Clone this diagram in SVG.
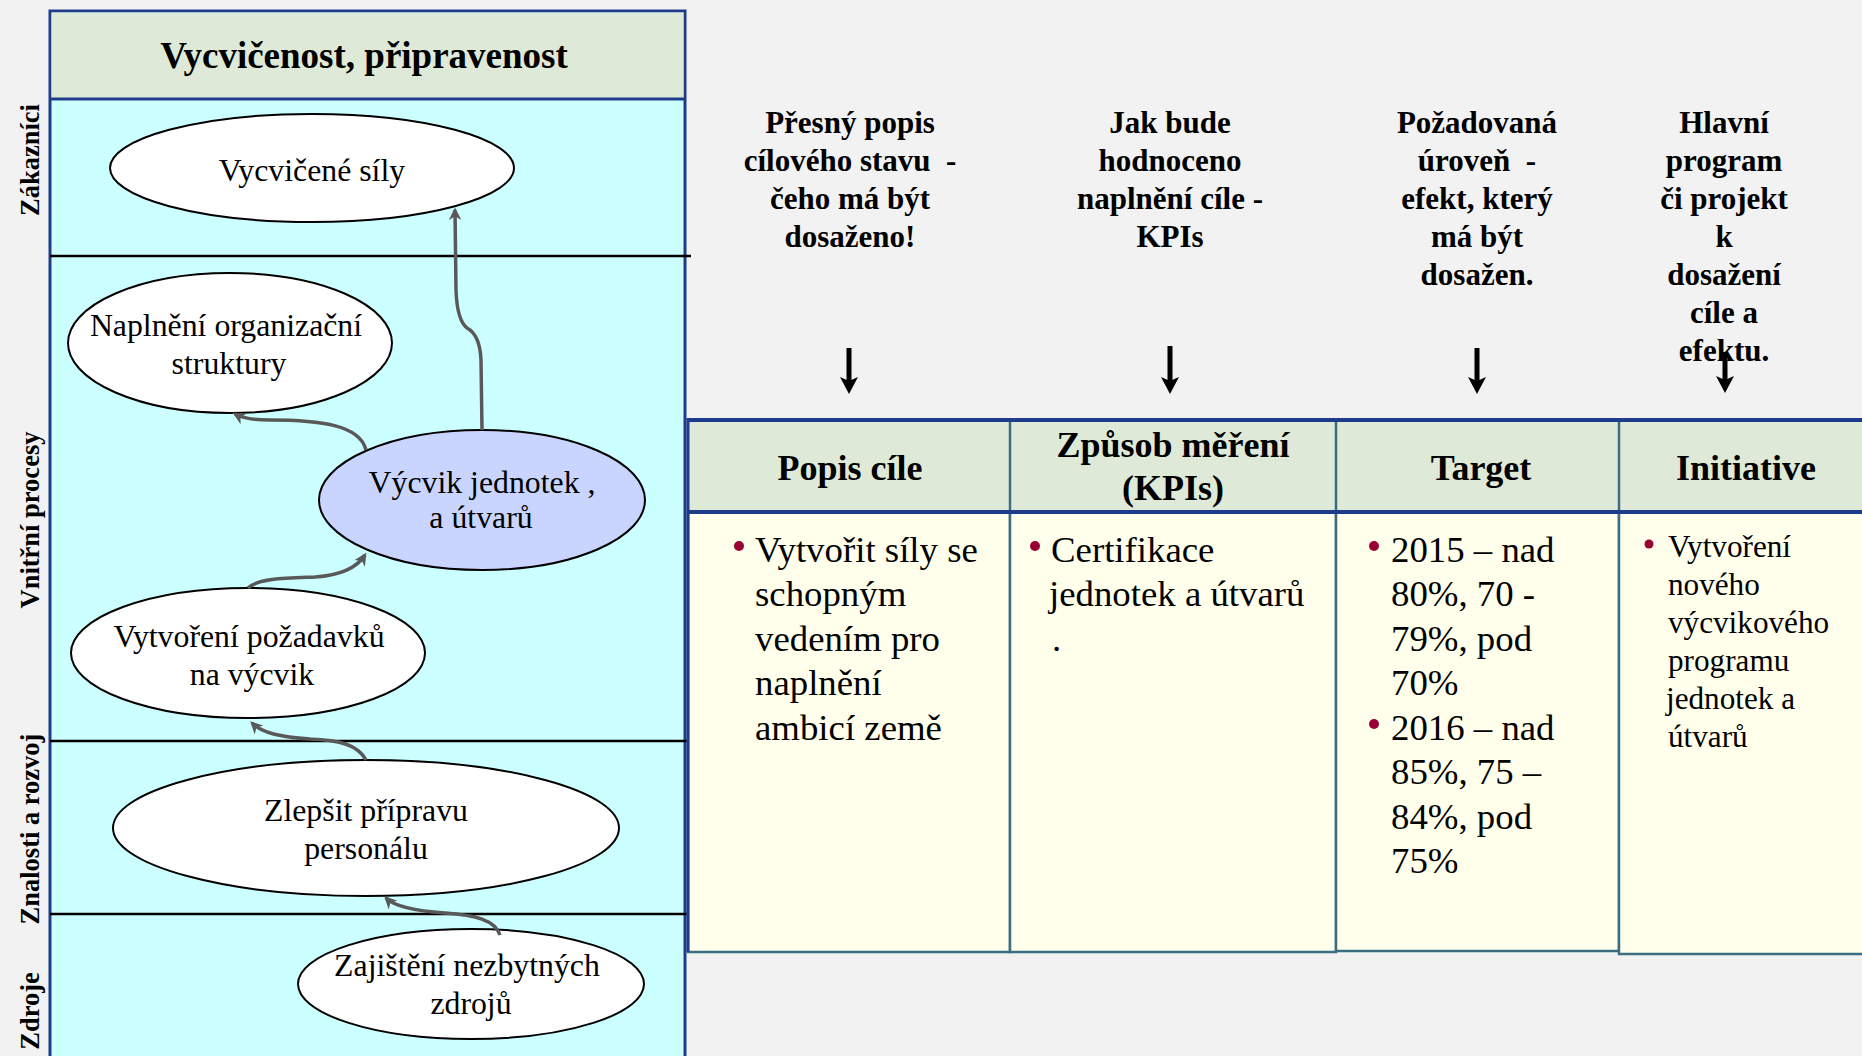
<svg xmlns="http://www.w3.org/2000/svg" width="1862" height="1056" viewBox="0 0 1862 1056">
<defs>
<style>
text{font-family:"Liberation Serif","Times New Roman",serif;fill:#000}
.b{font-weight:bold}
.t{font-size:31.8px;text-anchor:middle}
.lab{font-size:26.5px;font-weight:bold;text-anchor:middle}
.hd{font-size:31px;font-weight:bold;text-anchor:middle}
.th{font-size:36px;font-weight:bold;text-anchor:middle}
.bd{font-size:36.8px}
.bs{font-size:31.2px}
.ell{stroke:#000;stroke-width:2}
.con{fill:none;stroke:#595959;stroke-width:3.5;marker-end:url(#ah)}
.sep{stroke:#000;stroke-width:2.5}
.cell{fill:#FFFFEB;stroke:#3B6E82;stroke-width:2.5}
.bul{fill:#990033}
.dn{stroke:#000;stroke-width:5;marker-end:url(#dh)}
</style>
<marker id="ah" viewBox="0 0 10 10" refX="8" refY="5" markerWidth="3.6" markerHeight="3.6" orient="auto" markerUnits="strokeWidth">
<path d="M0,0 L10,5 L0,10 L3,5 z" fill="#595959"/>
</marker>
<marker id="dh" viewBox="0 0 17 18" refX="5" refY="9" markerWidth="17" markerHeight="18" orient="auto" markerUnits="userSpaceOnUse">
<path d="M0,0 L17,9 L0,18 L4,9 z" fill="#000"/>
</marker>
</defs>
<rect width="1862" height="1056" fill="#F2F2F2"/>

<g id="left-panel">
<rect x="50" y="11" width="635" height="1050" fill="#CCFFFF" stroke="#1F3C8C" stroke-width="3"/>
<rect x="51.5" y="12.5" width="632" height="86.5" fill="#DEEAD7"/>
<line x1="50" y1="99" x2="685" y2="99" stroke="#1F3C8C" stroke-width="3"/>
<text x="364" y="68" class="b" font-size="37" text-anchor="middle">Vycvičenost, připravenost</text>
<line class="sep" x1="50" y1="256" x2="691" y2="256"/>
<line class="sep" x1="50" y1="741" x2="691" y2="741"/>
<line class="sep" x1="50" y1="914" x2="688" y2="914"/>
<text class="lab" transform="translate(39,160) rotate(-90)">Zákazníci</text>
<text class="lab" transform="translate(39,520) rotate(-90)">Vnitřní procesy</text>
<text class="lab" transform="translate(39,829) rotate(-90)">Znalosti a rozvoj</text>
<text class="lab" transform="translate(39,1011) rotate(-90)">Zdroje</text>
</g>

<g id="node-vycvicene-sily">
<ellipse class="ell" cx="312" cy="168" rx="202" ry="54" fill="#fff"/>
<text class="t" x="312" y="181">Vycvičené síly</text>
</g>
<g id="node-naplneni">
<ellipse class="ell" cx="230" cy="343" rx="162" ry="70" fill="#fff"/>
<text class="t" x="226" y="336">Naplnění organizační</text>
<text class="t" x="229" y="374">struktury</text>
</g>
<g id="node-vycvik">
<ellipse class="ell" cx="482" cy="500" rx="163" ry="70" fill="#C9D5FF"/>
<text class="t" x="482" y="493">Výcvik jednotek ,</text>
<text class="t" x="481" y="528">a útvarů</text>
</g>
<g id="node-pozadavky">
<ellipse class="ell" cx="248" cy="653" rx="177" ry="65" fill="#fff"/>
<text class="t" x="249" y="647">Vytvoření požadavků</text>
<text class="t" x="252" y="685">na výcvik</text>
</g>
<g id="node-priprava">
<ellipse class="ell" cx="366" cy="828" rx="253" ry="68" fill="#fff"/>
<text class="t" x="366" y="821">Zlepšit přípravu</text>
<text class="t" x="366" y="859">personálu</text>
</g>
<g id="node-zdroje">
<ellipse class="ell" cx="471" cy="984" rx="173" ry="55" fill="#fff"/>
<text class="t" x="467" y="976">Zajištění nezbytných</text>
<text class="t" x="471" y="1014">zdrojů</text>
</g>

<g id="connectors">
<path class="con" d="M482,430 L481,360 Q480,335 467,328 Q457,320 456,290 L455,210"/>
<path class="con" d="M366,450 C360,425 320,420 270,420 C252,420 242,418 235,414"/>
<path class="con" d="M248,588 C258,578 290,578 315,577 C345,575 358,566 365,555"/>
<path class="con" d="M366,760 C358,745 340,740 310,739 C280,737 262,733 252,723"/>
<path class="con" d="M500,935 C495,920 475,915 445,913 C415,911 395,907 386,898"/>
<line class="dn" x1="849" y1="348" x2="849" y2="382"/>
<line class="dn" x1="1170" y1="346" x2="1170" y2="382"/>
<line class="dn" x1="1477" y1="348" x2="1477" y2="382"/>
<line class="dn" x1="1725" y1="352" x2="1725" y2="381"/>
</g>

<g id="col-notes">
<text class="hd" x="850" y="133">Přesný popis</text>
<text class="hd" x="850" y="171">cílového stavu &#160;-</text>
<text class="hd" x="850" y="209">čeho má být</text>
<text class="hd" x="850" y="247">dosaženo!</text>
<text class="hd" x="1170" y="133">Jak bude</text>
<text class="hd" x="1170" y="171">hodnoceno</text>
<text class="hd" x="1170" y="209">naplnění cíle -</text>
<text class="hd" x="1170" y="247">KPIs</text>
<text class="hd" x="1477" y="133">Požadovaná</text>
<text class="hd" x="1477" y="171">úroveň &#160;-</text>
<text class="hd" x="1477" y="209">efekt, který</text>
<text class="hd" x="1477" y="247">má být</text>
<text class="hd" x="1477" y="285">dosažen.</text>
<text class="hd" x="1724" y="133">Hlavní</text>
<text class="hd" x="1724" y="171">program</text>
<text class="hd" x="1724" y="209">či projekt</text>
<text class="hd" x="1724" y="247">k</text>
<text class="hd" x="1724" y="285">dosažení</text>
<text class="hd" x="1724" y="323">cíle a</text>
<text class="hd" x="1724" y="361">efektu.</text>
</g>

<g id="table">
<rect x="688" y="420" width="1180" height="92" fill="#DEEAD7"/>
<rect class="cell" x="688" y="512" width="322" height="440"/>
<rect class="cell" x="1010" y="512" width="326" height="440"/>
<rect class="cell" x="1336" y="512" width="283" height="439"/>
<rect class="cell" x="1619" y="512" width="250" height="442"/>
<line x1="1010" y1="420" x2="1010" y2="512" stroke="#3B6E82" stroke-width="2.5"/>
<line x1="1336" y1="420" x2="1336" y2="512" stroke="#3B6E82" stroke-width="2.5"/>
<line x1="1619" y1="420" x2="1619" y2="512" stroke="#3B6E82" stroke-width="2.5"/>
<line x1="688" y1="420" x2="1862" y2="420" stroke="#1F3C8C" stroke-width="4"/>
<line x1="688" y1="512" x2="1862" y2="512" stroke="#1F3C8C" stroke-width="4"/>
<line x1="688" y1="418" x2="688" y2="952" stroke="#1F3C8C" stroke-width="3"/>
</g>

<g id="cell-popis">
<text class="th" x="850" y="480">Popis cíle</text>
<circle class="bul" cx="739" cy="546" r="5"/>
<text class="bd" x="755" y="562">Vytvořit síly se</text>
<text class="bd" x="755" y="606">schopným</text>
<text class="bd" x="755" y="651">vedením pro</text>
<text class="bd" x="755" y="695">naplnění</text>
<text class="bd" x="755" y="740">ambicí země</text>
</g>
<g id="cell-zpusob">
<text class="th" x="1173" y="457">Způsob měření</text>
<text class="th" x="1173" y="500">(KPIs)</text>
<circle class="bul" cx="1035" cy="546" r="5"/>
<text class="bd" x="1051" y="562">Certifikace</text>
<text class="bd" x="1049" y="606">jednotek a útvarů</text>
<text class="bd" x="1052" y="651">.</text>
</g>
<g id="cell-target">
<text class="th" x="1481" y="480">Target</text>
<circle class="bul" cx="1374" cy="546" r="5"/>
<text class="bd" x="1391" y="562">2015 – nad</text>
<text class="bd" x="1391" y="606">80%, 70 -</text>
<text class="bd" x="1391" y="651">79%, pod</text>
<text class="bd" x="1391" y="695">70%</text>
<circle class="bul" cx="1374" cy="724" r="5"/>
<text class="bd" x="1391" y="740">2016 – nad</text>
<text class="bd" x="1391" y="784">85%, 75 –</text>
<text class="bd" x="1391" y="829">84%, pod</text>
<text class="bd" x="1391" y="873">75%</text>
</g>
<g id="cell-initiative">
<text class="th" x="1746" y="480">Initiative</text>
<circle class="bul" cx="1649" cy="544" r="4.5"/>
<text class="bs" x="1668" y="557">Vytvoření</text>
<text class="bs" x="1668" y="595">nového</text>
<text class="bs" x="1668" y="633">výcvikového</text>
<text class="bs" x="1668" y="671">programu</text>
<text class="bs" x="1666" y="709">jednotek a</text>
<text class="bs" x="1668" y="747">útvarů</text>
</g>
</svg>
